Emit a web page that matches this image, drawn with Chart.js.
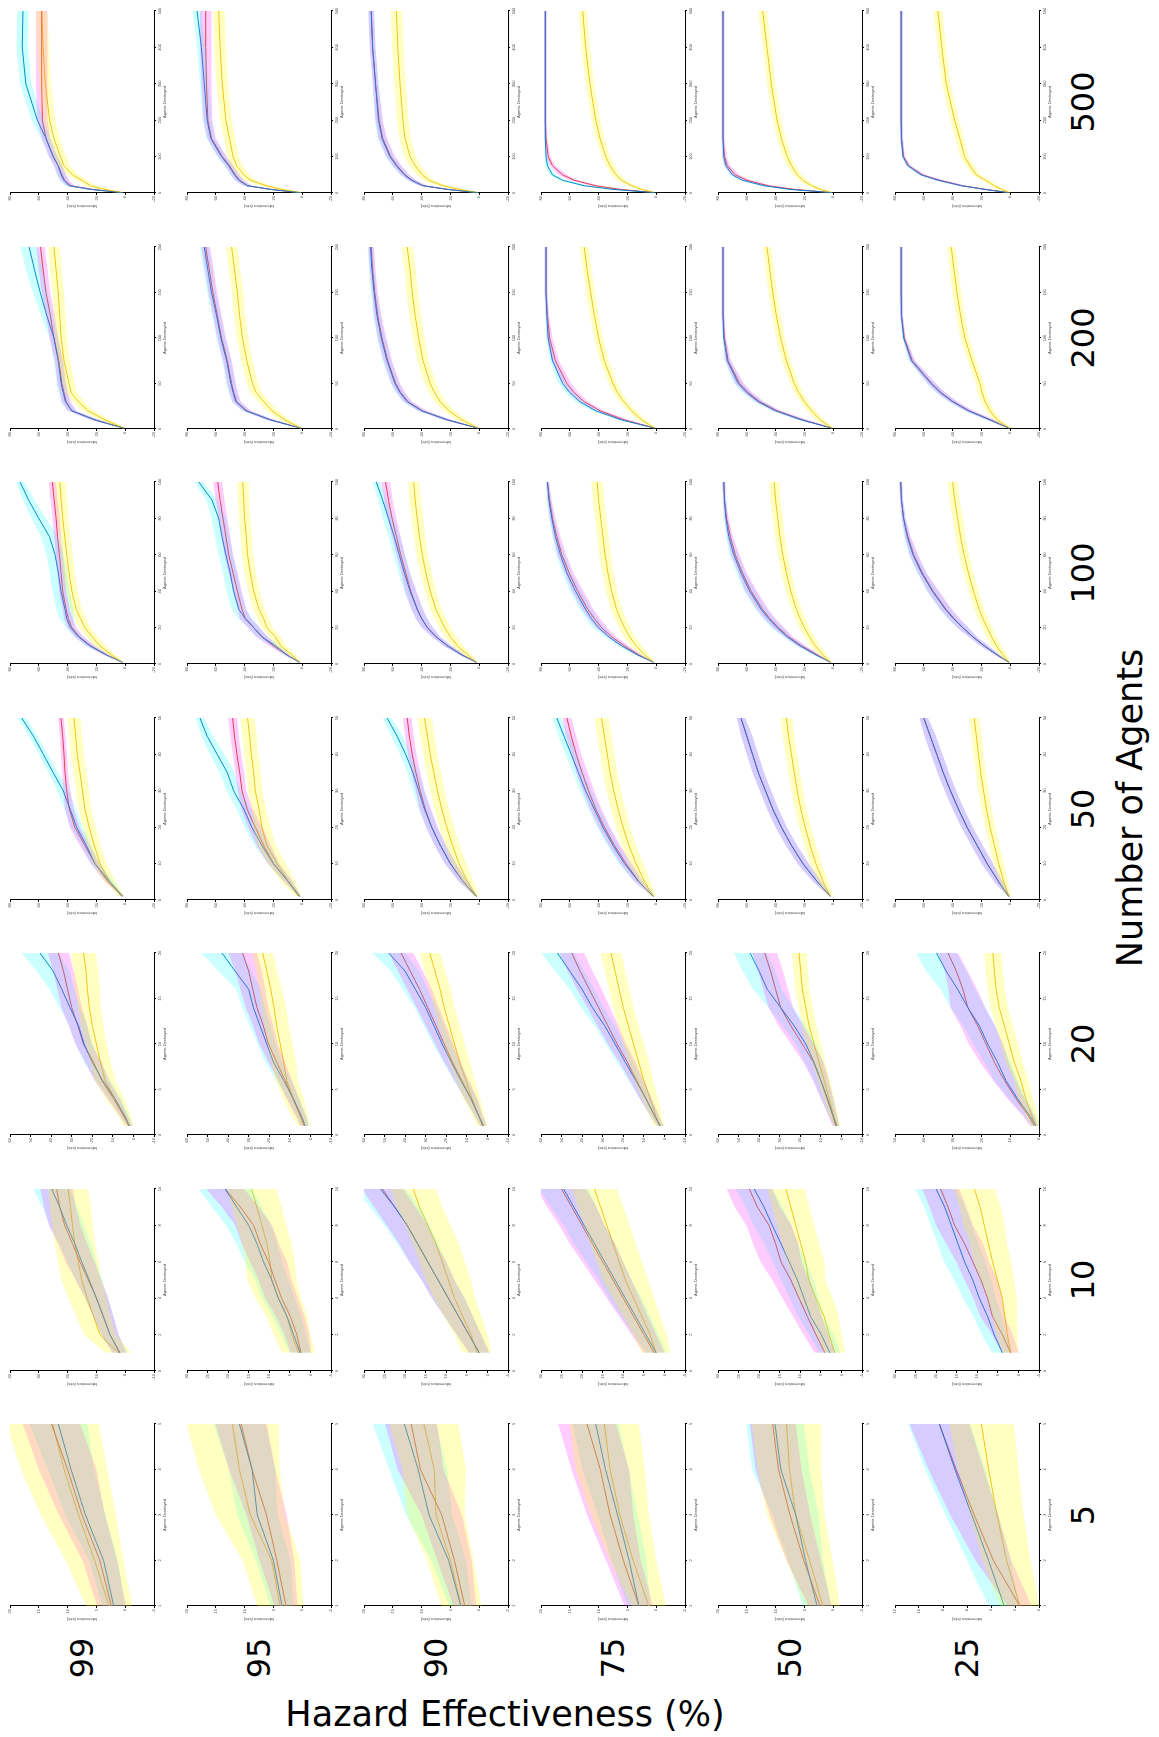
<!DOCTYPE html>
<html>
<head>
<meta charset="utf-8">
<script src="https://cdn.jsdelivr.net/npm/chart.js@4.4.0/dist/chart.umd.min.js"></script>
<style>
  body { margin: 0; background: #fff; width: 1159px; height: 1737px; position: relative; overflow: hidden; font-family: 'DejaVu Sans', sans-serif; }
  .cell { position: absolute; left: 0; top: 0; transform-origin: 0 0; }
  .lab { position: absolute; font-size: 35px; color: #000; white-space: nowrap; line-height: 1; }
  .num { font-size: 32px; }
  .rot { transform: translate(-50%, -50%) rotate(-90deg); }
</style>
</head>
<body>
<script>
const hazards = ['99', '95', '90', '75', '50', '25'];
const agentRows = [500, 200, 100, 50, 20, 10, 5];

// agents destroyed at which values were read
const x500 = [1, 10, 20, 35, 50, 75, 100, 150, 200, 300, 400, 500];
const x200 = [1, 10, 20, 30, 40, 50, 75, 100, 125, 150, 175, 200];
const x100 = [1, 5, 10, 15, 20, 25, 30, 40, 50, 60, 70, 80, 90, 100];
const x50 = [1, 5, 10, 15, 20, 25, 30, 35, 40, 45, 50];
const x20 = [1, 2, 4, 6, 8, 10, 12, 14, 16, 18, 20];
const x10 = [1, 2, 3, 4, 5, 6, 7, 8, 9, 10];
const x5 = [1, 2, 3, 4, 5];

// y axis [min, max, step] for each hazard column
const yAx500 = [[-20, 80, 20], [-20, 80, 20], [-20, 80, 20], [-20, 80, 20], [-20, 80, 20], [-20, 80, 20]];
const yAx200 = yAx500;
const yAx100 = yAx500;
const yAx50 = yAx500;
const yAx20 = [[-10, 60, 10], [-10, 60, 10], [-10, 60, 10], [-10, 60, 10], [-10, 60, 10], [0, 50, 10]];
const yAx10 = [[-10, 40, 10], [-5, 30, 5], [-5, 30, 5], [-5, 30, 5], [-5, 30, 5], [-5, 30, 5]];
const yAx5 = [[-5, 20, 5], [-5, 20, 5], [-5, 20, 5], [-5, 20, 5], [-5, 20, 5], [0, 12, 2]];

// ---- 500 agents ----
const blue500 = [
  [2, 24, 39, 42.5, 44.5, 46.5, 50, 55, 61, 69, 71.5, 71],
  [1.5, 22, 38, 44, 47, 51, 56, 63.5, 66, 68, 70, 73],
  [1, 22, 39, 47, 52, 57.5, 62, 67.5, 70, 72, 74, 75],
  [1, 30, 50, 65, 72, 75.5, 76.5, 77, 77, 77, 77, 77],
  [1, 30, 48, 63, 70, 74.5, 76, 76.5, 76.5, 76.5, 76.5, 76.5],
  [1, 18, 34, 50, 62, 71, 74.5, 75.5, 75.7, 75.7, 75.7, 75.7]
];
const blueW500 = [
  [1, 3, 3, 3, 3, 3, 3, 3.5, 4, 4, 4, 4],
  [1, 3, 3, 3, 3, 3, 3, 3, 3, 3, 3, 3],
  [1, 3, 3, 3, 3, 3, 3, 3, 2.5, 2, 2, 2],
  [1, 3, 3, 3, 2, 1.5, 1, 1, 1, 1, 1, 1],
  [1, 3, 3, 3, 2, 1.5, 1, 1, 1, 1, 1, 1],
  [1, 3, 3, 3, 2, 1.5, 1, 1, 1, 1, 1, 1]
];
const red500 = [
  [2, 23, 38, 42, 44, 46.5, 50, 55, 57.5, 58, 58, 58],
  [1.5, 22, 38, 43.5, 46.5, 50.5, 55.5, 63, 65.5, 66.5, 67, 67],
  [1, 22, 39, 46.5, 51.5, 57, 61.5, 67, 69.5, 72, 74, 75],
  [1, 25, 42, 57, 65, 72, 75, 76.5, 77, 77, 77, 77],
  [1, 27, 45, 60, 68, 73.5, 75.5, 76.5, 76.5, 76.5, 76.5, 76.5],
  [1, 17, 33, 49, 61, 70.5, 74, 75.5, 75.7, 75.7, 75.7, 75.7]
];
const redW500 = [
  [1, 3, 3, 3, 3, 3, 3, 3, 3.5, 4, 4, 4],
  [1, 3, 3, 3, 3, 3, 3, 3, 3, 3.5, 4, 4],
  [1, 3, 3, 3, 3, 3, 3, 3, 2.5, 2, 2, 2],
  [1, 3, 3, 3, 3, 2, 1.5, 1, 1, 1, 1, 1],
  [1, 3, 3, 3, 3, 2, 1.5, 1, 1, 1, 1, 1],
  [1, 3, 3, 3, 2, 1.5, 1, 1, 1, 1, 1, 1]
];
const yel500 = [
  [2, 14, 24, 30, 36.5, 42.5, 45, 49.5, 52.5, 55.5, 57, 58],
  [1, 14, 25, 36, 40.5, 45.5, 48, 50.5, 53, 55.5, 57, 58],
  [1, 14, 25, 35, 39.5, 44.5, 48, 51.5, 53, 55, 56.5, 57.5],
  [1, 10, 17, 24, 28, 32, 35, 39, 42, 46, 49, 51],
  [1, 9, 15, 21, 25, 29, 32, 36, 39, 43, 46, 49],
  [0.5, 6, 11, 17, 23.6, 28, 31.7, 35, 38.6, 44.4, 47.5, 50.2]
];
const yelW500 = [
  [2, 4, 4, 4, 4, 4, 4, 4, 4, 4, 4, 4],
  [2, 4, 4, 4, 4, 4, 4, 4, 4, 4, 4, 4],
  [2, 4, 4, 4, 4, 4, 4, 4, 4, 4, 4, 4],
  [2, 3, 3, 3, 3, 3, 3, 3, 3, 3, 3, 3],
  [2, 3, 3, 3, 3, 3, 3, 3, 3, 3, 3, 3],
  [2, 3, 3, 3, 3, 3, 3, 3, 3, 3, 3, 3]
];

// ---- 200 agents ----
const blue200 = [
  [1, 21, 37, 41.5, 43, 44.5, 46.5, 49.5, 54.5, 59, 63, 66.7],
  [1, 22, 39, 46, 48, 49.5, 52.5, 56.5, 59.5, 63, 65.5, 68],
  [1, 22, 40, 50, 55, 58.5, 64, 68, 71, 73, 74.5, 75.5],
  [1, 24, 42, 53, 60, 65, 72, 75, 76, 76.5, 76.5, 76.5],
  [1, 22, 40, 52, 60, 66, 73.5, 76, 76.5, 76.5, 76.5, 76.5],
  [1, 14, 29, 40, 48.5, 55, 68.5, 74, 75.5, 75.7, 75.7, 75.7]
];
const blueW200 = [
  [1, 3, 3, 3, 3, 3, 3, 3, 4, 5, 6, 6],
  [1, 3, 3, 3, 3, 3, 3, 3, 3, 3, 3, 3],
  [1, 3, 3, 3, 3, 3, 3, 3, 2.5, 2, 2, 2],
  [1, 3, 3, 3, 3, 3, 2, 1.5, 1, 1, 1, 1],
  [1, 3, 3, 3, 3, 3, 2, 1, 1, 1, 1, 1],
  [1, 3, 3, 3, 3, 3, 2, 1, 1, 1, 1, 1]
];
const red200 = [
  [1, 21, 37, 41, 42.5, 44, 46, 49.5, 52, 55, 57, 58.8],
  [1, 22, 38.5, 45.5, 47.5, 49, 52, 56, 59, 62, 64.5, 67],
  [1, 22, 39.5, 49.5, 54.5, 58, 63.5, 67.5, 70.5, 72.5, 74, 75],
  [1, 22, 39, 50, 57, 62, 70, 74, 75.5, 76.5, 76.5, 76.5],
  [1, 21, 39, 51, 59, 65, 73, 75.5, 76.5, 76.5, 76.5, 76.5],
  [1, 13.5, 28.5, 39.5, 48, 54.5, 68, 73.5, 75.5, 75.7, 75.7, 75.7]
];
const redW200 = [
  [1, 3, 3, 3, 3, 3, 3, 3, 3, 3, 3, 3],
  [1, 3, 3, 3, 3, 3, 3, 3, 3, 3, 3, 3],
  [1, 3, 3, 3, 3, 3, 3, 3, 2.5, 2, 2, 2],
  [1, 3, 3, 3, 3, 3, 2.5, 2, 1, 1, 1, 1],
  [1, 3, 3, 3, 3, 3, 2, 1, 1, 1, 1, 1],
  [1, 3, 3, 3, 3, 3, 2, 1, 1, 1, 1, 1]
];
const yel200 = [
  [1, 14, 25.7, 32.5, 37.5, 39, 42.5, 44.5, 45.5, 46.5, 48, 49.5],
  [1, 12, 21, 26.5, 32, 34.5, 38.5, 41.5, 43.5, 45, 47, 49],
  [1, 12, 21, 27, 31, 34, 39, 42, 44.5, 46.5, 48, 50],
  [1, 10, 17, 22.5, 27, 30, 36, 40, 43, 45.5, 48, 50],
  [1, 9, 15, 20, 24, 27, 32.5, 36.5, 39.5, 42, 44, 46],
  [0.5, 9, 14, 17.5, 19.5, 21, 26.5, 31.5, 34.5, 37, 39, 41]
];
const yelW200 = [
  [2, 4, 4, 4, 4, 4, 4, 4, 4, 4, 4, 4],
  [2, 4, 4, 4, 4, 4, 4, 4, 4, 4, 4, 4],
  [2, 4, 4, 4, 4, 4, 4, 4, 4, 4, 4, 4],
  [2, 3, 3, 3, 3, 3, 3, 3, 3, 3, 3, 3],
  [2, 3, 3, 3, 3, 3, 3, 3, 3, 3, 3, 3],
  [2, 3, 3, 3, 3, 3, 3, 3, 3, 3, 3, 3]
];

// ---- 100 agents ----
const blue100 = [
  [2, 13, 24.5, 32.5, 38, 40.6, 41.8, 44.6, 46.4, 48.7, 52.6, 60, 67, 73],
  [2, 10.6, 18.7, 28, 33.7, 39.5, 44, 47.6, 50, 53, 55.7, 58, 62.6, 71.8],
  [2, 12, 22, 30, 36, 40, 43, 48, 52, 55.5, 59, 63, 67, 71.5],
  [2, 13, 24, 33, 40, 45, 49, 56, 62, 66.5, 70, 72.5, 74.5, 75.5],
  [2, 12, 23, 32, 39, 45, 50, 58, 64, 69, 72.5, 74.5, 75.5, 76],
  [1, 9, 18, 26, 33, 39.5, 45, 54, 61.5, 67.5, 71.5, 74, 75.5, 76]
];
const blueW100 = [
  [1, 2, 3, 3, 3, 5, 6, 6, 6, 6, 6, 5, 4, 3],
  [1, 2, 3, 4, 4, 5, 5, 5, 5, 5, 5, 5, 4, 3],
  [1, 2, 3, 3, 4, 4, 4, 4, 4, 4, 4, 4, 3, 3],
  [1, 2, 3, 3, 4, 4, 4, 4, 3, 3, 2, 2, 1.5, 1],
  [1, 2, 3, 3, 4, 4, 4, 4, 3, 3, 2, 1.5, 1, 1],
  [1, 2, 3, 3, 4, 4, 4, 4, 3, 3, 2, 1.5, 1, 1]
];
const red100 = [
  [2, 13, 24, 32, 37, 39.5, 41, 43.4, 44.5, 45.7, 47, 48, 49.3, 50.6],
  [2, 10.6, 20, 28, 33.7, 39.5, 41.8, 45, 48, 51, 53, 55, 57, 58.7],
  [2, 12, 22, 30, 36, 40, 43, 47.5, 51, 54.5, 57.5, 60.5, 63, 65],
  [2, 12, 22, 31, 38, 43, 47.5, 54.5, 60.5, 65.5, 69, 72, 74, 75.5],
  [2, 11, 22, 31, 38, 44, 49, 57, 63, 68, 71.5, 74, 75.5, 76],
  [1, 9, 18, 26, 33, 39, 44.5, 53.5, 61, 67, 71, 74, 75.5, 76]
];
const redW100 = [
  [1, 2, 3, 3, 3, 3, 2.5, 2.5, 2.5, 2.5, 2.5, 2.5, 2.5, 2.5],
  [1, 2, 3, 4, 4, 4, 3, 3, 3, 3, 3, 3, 3, 3],
  [1, 2, 3, 3, 4, 4, 4, 4, 3, 3, 3, 3, 3, 3],
  [1, 2, 3, 3, 4, 4, 4, 4, 3, 3, 2.5, 2, 1.5, 1],
  [1, 2, 3, 3, 4, 4, 4, 4, 3, 3, 2, 1.5, 1, 1],
  [1, 2, 3, 3, 4, 4, 4, 4, 3, 3, 2, 1.5, 1, 1]
];
const yel100 = [
  [2, 9.5, 17.5, 23, 28, 31, 34, 37, 39, 40.6, 42, 43.4, 44.5, 45.3],
  [2, 7, 15, 18.7, 24.5, 26.8, 30, 33.7, 36, 38, 38.8, 40, 40.6, 41.3],
  [2, 8, 15, 20, 24, 27, 30, 34, 37, 39.5, 41.5, 43, 44.5, 45.5],
  [2, 8, 14, 18.5, 22, 25, 27.5, 31, 33.5, 35.5, 37, 38.5, 40, 41],
  [2, 7, 12.5, 16.5, 20, 23, 25.5, 29.5, 32.5, 35, 37, 38.5, 40, 41],
  [1, 5, 9.5, 13, 16, 19, 21.5, 25.5, 29, 32, 34.5, 36.5, 38.5, 40]
];
const yelW100 = [
  [1.5, 3, 4, 4, 4, 4, 4, 4, 4, 4, 4, 4, 4, 4],
  [1.5, 3, 4, 4, 4, 4, 4, 4, 4, 4, 4, 4, 4, 4],
  [1.5, 3, 4, 4, 4, 4, 4, 4, 4, 4, 4, 4, 4, 4],
  [1.5, 3, 4, 4, 4, 4, 4, 4, 4, 4, 4, 4, 4, 4],
  [1.5, 3, 3.5, 3.5, 3.5, 3.5, 3.5, 3.5, 3.5, 3.5, 3.5, 3.5, 3.5, 3.5],
  [1.5, 3, 3.5, 3.5, 3.5, 3.5, 3.5, 3.5, 3.5, 3.5, 3.5, 3.5, 3.5, 3.5]
];

// ---- 50 agents ----
const blue50 = [
  [1.8, 10.6, 21, 27, 33.7, 38.3, 43, 50, 56.8, 63.7, 71.8],
  [1.8, 9.5, 20, 28, 35, 40.6, 47.6, 52, 59, 66, 71],
  [2, 11, 20, 27, 33, 38, 42, 46, 51, 57, 64],
  [2, 12, 22, 30, 37, 43, 49, 54, 59, 64, 69],
  [2, 11, 21, 29, 36, 42, 47, 52, 56, 60, 64],
  [1, 8, 16, 23, 30, 36, 41.5, 46.5, 51, 55.5, 60]
];
const blueW50 = [
  [1, 2.5, 3, 3.5, 4, 4, 4, 3.5, 3, 3, 3],
  [1, 3, 4, 5, 5, 5, 5, 5, 5, 4, 3],
  [1, 3, 4, 4, 4, 4, 4, 4, 4, 4, 3],
  [1, 3, 4, 4, 4, 4, 4, 4, 4, 4, 3],
  [1, 3, 4, 4, 4, 4, 4, 4, 4, 4, 3],
  [1, 3, 4, 4, 4, 4, 4, 4, 4, 4, 3]
];
const red50 = [
  [1.8, 11.8, 21, 28, 35, 38.8, 40.6, 41.8, 42.5, 43.4, 44.6],
  [1.8, 9.5, 20, 26.8, 32.6, 38.3, 41.8, 43.4, 45.3, 47, 48.3],
  [2, 11, 20, 27, 33, 37.5, 41, 44, 46.5, 48.5, 50],
  [2, 12, 21, 29, 36, 42, 47, 51.5, 55.5, 59, 62],
  [2, 11, 21, 29, 36, 42, 47, 52, 56, 60, 64],
  [1, 8, 16, 23, 30, 36, 41.5, 46.5, 51, 55.5, 60]
];
const redW50 = [
  [1, 2, 3, 3.5, 3.5, 3, 2.5, 2, 2, 2, 2],
  [1, 3, 4, 5, 5, 4, 3, 3, 3, 3, 3],
  [1, 3, 4, 4, 4, 4, 3, 3, 3, 3, 3],
  [1, 3, 4, 4, 4, 4, 4, 4, 3.5, 3.5, 3],
  [1, 3, 4, 4, 4, 4, 4, 4, 4, 4, 3],
  [1, 3, 4, 4, 4, 4, 4, 4, 4, 4, 3]
];
const yel50 = [
  [2.5, 10.6, 17.5, 21.5, 25, 28, 29.6, 31.4, 33.3, 34.4, 35.6],
  [2.5, 9.5, 17.5, 24.5, 28, 30, 32.6, 33.7, 35.3, 36.5, 37.9],
  [2, 8, 14, 18.5, 22.5, 26, 29, 31.5, 34, 36, 38],
  [2, 8, 14, 19, 23, 26.5, 29.5, 32, 34, 36, 38],
  [2, 7, 12, 16, 19.5, 22.5, 25, 27, 29, 31, 32.5],
  [1, 4.5, 8, 11, 14, 16.5, 18.5, 20.5, 22, 23.5, 25]
];
const yelW50 = [
  [2, 4, 4.5, 4.5, 4.5, 4.5, 4.5, 4.5, 4.5, 4.5, 4.5],
  [2, 5, 6, 6, 6, 5, 5, 5, 5, 5, 5],
  [2, 4, 5, 5, 5, 5, 5, 5, 5, 5, 5],
  [2, 4, 5, 5, 5, 5, 5, 5, 5, 5, 5],
  [2, 3.5, 4, 4, 4, 4, 4, 4, 4, 4, 4],
  [2, 3, 3.5, 3.5, 3.5, 3.5, 3.5, 3.5, 3.5, 3.5, 3.5]
];

// ---- 20 agents ----
const blue20 = [
  [2, 4, 9, 15, 20, 24, 26.7, 30.8, 34.8, 39, 45.4],
  [2.6, 4.2, 8.3, 13, 18, 21.2, 24.5, 27.7, 30, 36.6, 43],
  [2, 4, 8, 13, 17.5, 22, 26, 30, 35, 40, 48],
  [2, 4.5, 9, 14, 19, 24, 29, 35, 40, 46, 52],
  [2.3, 3.9, 6.8, 10, 13.3, 17.3, 23, 29.5, 36, 40, 44.4],
  [1.1, 2.9, 7.5, 11.5, 14.4, 17.8, 20.7, 24.7, 28.2, 32.2, 35.6]
];
const blueW20 = [
  [1.5, 2, 3, 3.5, 4, 4, 4.5, 5, 6, 8, 9],
  [2, 2.5, 3, 3.5, 4, 4.5, 5, 5.5, 6, 8, 10],
  [1.5, 2, 3, 3.5, 4, 4.5, 5, 5.5, 6, 7, 8],
  [1.5, 2, 3, 3.5, 4, 4.5, 5, 5.5, 6, 7, 8],
  [1.5, 2, 3, 3.5, 4.5, 5, 5.5, 6, 7, 8, 8],
  [1.5, 2, 3, 4, 4.5, 5, 5.5, 6, 6, 7, 7]
];
const red20 = [
  [2, 4.5, 9.7, 15.4, 19.4, 24.3, 27, 30, 32, 34, 36.5],
  [2.9, 4.5, 8.6, 12.3, 16.4, 20.4, 22.9, 26, 28, 30, 33],
  [2, 4, 8, 12.5, 17, 21, 25, 29, 33, 37.5, 42],
  [2, 4.5, 9, 13.5, 18, 23, 27.5, 32, 36.5, 41, 45],
  [2.8, 4, 7, 10, 13.6, 19, 24.6, 29.5, 32, 34.4, 37.3],
  [1.7, 3.4, 8, 12, 15.5, 18.4, 21.3, 24.7, 26.4, 28.7, 31.6]
];
const redW20 = [
  [1.5, 2, 3, 3.5, 4, 4, 4.5, 5, 5, 5, 5],
  [2, 2.5, 3, 3.5, 4, 4.5, 5, 5.5, 6, 6.5, 7],
  [1.5, 2, 3, 3.5, 4, 4.5, 5, 5.5, 6, 6, 6],
  [1.5, 2, 3, 3.5, 4, 4.5, 5, 5.5, 6, 6, 6],
  [1.5, 2, 3, 4, 5, 5.5, 6, 6, 6, 6, 6],
  [1.5, 2, 3, 4, 5, 6, 6, 6, 5, 4, 3.5]
];
const yel20 = [
  [2.4, 4, 9, 13.8, 16, 18, 20, 21.4, 22.4, 23, 24.3],
  [3, 5, 8.3, 11.5, 13, 14.7, 16.4, 17.7, 19.3, 21.2, 23.2],
  [2.5, 4, 7.5, 10.5, 13.5, 16, 18.5, 21, 23, 25.5, 28],
  [2.5, 4, 7, 10, 12.5, 15, 17.5, 20, 22, 24, 26],
  [2, 3.6, 6, 8.4, 10.9, 13.3, 15.7, 17.3, 19, 19.8, 20.6],
  [1.1, 2.3, 4.6, 6.3, 8.6, 10.3, 12, 13.8, 14.9, 15.5, 16]
];
const yelW20 = [
  [2.5, 3, 4.5, 5, 5, 5, 5.5, 5.5, 6, 6, 6],
  [3, 4, 5, 5.5, 6, 6, 6, 6, 5.5, 5, 5],
  [2.5, 3, 4, 4.5, 5, 5, 5, 5, 5, 5, 5],
  [2.5, 3, 4, 4.5, 5, 5, 5, 5, 5, 5, 5],
  [1.5, 2, 2.5, 3, 3, 3.5, 3.5, 3.5, 3.5, 3.5, 3.5],
  [1.5, 2, 2.5, 2.5, 3, 3, 3, 3, 3, 3, 3]
];

// ---- 10 agents ----
const blue10 = [
  [1.8, 5.3, 7.6, 10, 12.5, 15.1, 17.5, 20.3, 22.7, 25.5],
  [2.5, 4.1, 5.7, 7.8, 9.4, 11.4, 13, 15, 17.9, 20.7],
  [2, 4.5, 7, 9.5, 12, 14.5, 17, 19.5, 22.5, 26],
  [2, 4.5, 7, 9.5, 12, 14.5, 17, 19.5, 22, 24.5],
  [2.8, 4.9, 7.5, 9.1, 10.7, 12.7, 14.7, 16.8, 18.8, 21.2],
  [3.9, 5.9, 7.5, 9.5, 11.1, 13.1, 14.7, 16.3, 17.9, 20]
];
const blueW10 = [
  [2.5, 3, 3.5, 4, 4.5, 5, 5.5, 6, 6, 6.5],
  [2.5, 3, 3.5, 4, 4, 4.5, 5, 5.5, 6, 6.5],
  [2.5, 3, 3.5, 4, 4, 4.5, 5, 5.5, 6, 6],
  [2.5, 3, 3.5, 4, 4, 4.5, 5, 5, 5.5, 6],
  [2.5, 3, 3, 3.5, 4, 4, 4, 4.5, 4.5, 4.5],
  [2.5, 3, 3.5, 4, 4.5, 5, 5, 5, 5, 5]
];
const red10 = [
  [2, 5.3, 7.6, 10, 12.8, 15.7, 18.3, 21, 22.7, 23.8],
  [2.3, 3.3, 4.9, 7, 8.6, 10.2, 12.2, 13.8, 17, 20.7],
  [2, 4.5, 7, 9.5, 12, 14.5, 17, 19.5, 22.5, 25.5],
  [2.5, 5, 7.5, 10, 12.5, 15, 17.5, 20, 22.5, 25],
  [4, 6.2, 8.3, 10.3, 12.3, 14.7, 16, 17.6, 20.4, 22.4],
  [1.9, 3.9, 6.3, 7.5, 9.1, 11.1, 13.1, 15.5, 17.1, 18.9]
];
const redW10 = [
  [2.5, 3, 3.5, 4, 4.5, 5, 5, 5.5, 5.5, 5.7],
  [2.5, 3, 3.5, 4, 4, 4.5, 4.5, 4.5, 4.5, 4.6],
  [2.5, 3, 3.5, 4, 4, 4.5, 4.5, 5, 5, 5],
  [2.5, 3, 3.5, 4, 4.5, 5, 5.5, 5.5, 6, 6],
  [2.5, 3, 3.5, 4, 4.5, 5, 5.5, 5.5, 5.5, 5.5],
  [2, 2.5, 3, 3.5, 4, 4, 4.5, 4.5, 4.5, 4.5]
];
const yel10 = [
  [2.4, 8.8, 11, 13.2, 15.1, 16.3, 17.5, 18.3, 19, 19.8],
  [2.9, 4.5, 5.7, 7.8, 9.4, 9.8, 10.6, 11.8, 13, 14.3],
  [2.5, 4, 6, 8, 9.5, 11, 12.5, 14.5, 16.5, 18],
  [2, 3.5, 5.5, 7.5, 9.5, 11, 12.5, 14, 15.5, 17],
  [1.6, 3, 4.2, 6.2, 7.9, 8.7, 9.9, 11.1, 12.3, 13.5],
  [1.9, 2.7, 3.3, 3.9, 5.1, 6.3, 7.3, 8.3, 9.3, 10.7]
];
const yelW10 = [
  [4.5, 5.5, 6, 6.5, 7, 7, 7, 7, 7, 7],
  [4, 4.5, 5, 5.5, 6, 6, 6, 6, 6, 6],
  [3.5, 4, 4.5, 5, 5.5, 5.5, 5.5, 5.5, 5.5, 5.5],
  [3.5, 4, 4.5, 5, 5.5, 5.5, 5.5, 5.5, 5.5, 5.5],
  [2.5, 3, 3.5, 4, 4, 4.5, 4.5, 4.5, 4.5, 4.5],
  [2, 2.5, 3, 3.5, 4, 4.5, 4.5, 5, 5, 5]
];

// ---- 5 agents ----
const blue5 = [
  [2, 3.75, 6.9, 9.4, 11.6],
  [3.5, 5, 7.8, 8.7, 10.9],
  [3.2, 5.3, 8.7, 10.6, 13],
  [3, 4.7, 6.7, 8.8, 10.5],
  [2.8, 4.8, 6.5, 9.1, 10.1],
  [2.9, 4.2, 5.6, 7, 8.3]
];
const blueW5 = [
  [2, 2.5, 3.5, 4, 5],
  [2, 3, 3.5, 4, 4.5],
  [2, 3, 4, 5, 5.5],
  [2, 3, 3.5, 4, 4],
  [2.5, 3, 4, 5, 5],
  [1.3, 1.8, 2.2, 2.5, 2.6]
];
const red5 = [
  [2.4, 4.4, 7.5, 10, 12.8],
  [2.8, 4.4, 6.2, 8.7, 10.6],
  [2.5, 4.3, 6.5, 10.2, 11.8],
  [3, 5.7, 8, 9.7, 12],
  [2.3, 5.1, 7.5, 9.5, 10.5],
  [1.6, 3.8, 5.4, 6.9, 8.3]
];
const redW5 = [
  [2.5, 3, 4, 5, 5],
  [2, 3, 3.5, 4, 4.5],
  [2, 3, 3.5, 4, 4.5],
  [2.5, 3, 4, 5, 5],
  [2, 3, 3.5, 4, 4],
  [1, 1.5, 2, 2.3, 2.5]
];
const yel5 = [
  [2.8, 5.3, 8.1, 10.6, 12.6],
  [3.8, 5.3, 9, 10.9, 12.1],
  [3.1, 5, 7.5, 7.8, 9.6],
  [1.3, 4, 6.3, 8, 9],
  [1.8, 4.1, 6.5, 7.6, 8.1],
  [1.6, 2.7, 3.5, 4.2, 4.8]
];
const yelW5 = [
  [4, 5, 6.5, 7.5, 8],
  [4, 5, 6, 7, 8],
  [3.5, 4, 5, 5.5, 6],
  [3, 4, 5, 6, 6],
  [3, 4, 5, 5.5, 6],
  [1.6, 2, 2.2, 2.5, 2.7]
];

const rows = [
  { xs: x500, xMin: 0, xMax: 500, xStep: 100, yAx: yAx500, b: blue500, bw: blueW500, r: red500, rw: redW500, y: yel500, yw: yelW500 },
  { xs: x200, xMin: 0, xMax: 200, xStep: 50, yAx: yAx200, b: blue200, bw: blueW200, r: red200, rw: redW200, y: yel200, yw: yelW200 },
  { xs: x100, xMin: 0, xMax: 100, xStep: 20, yAx: yAx100, b: blue100, bw: blueW100, r: red100, rw: redW100, y: yel100, yw: yelW100 },
  { xs: x50, xMin: 0, xMax: 50, xStep: 10, yAx: yAx50, b: blue50, bw: blueW50, r: red50, rw: redW50, y: yel50, yw: yelW50 },
  { xs: x20, xMin: 0, xMax: 20, xStep: 5, yAx: yAx20, b: blue20, bw: blueW20, r: red20, rw: redW20, y: yel20, yw: yelW20 },
  { xs: x10, xMin: 0, xMax: 10, xStep: 2, yAx: yAx10, b: blue10, bw: blueW10, r: red10, rw: redW10, y: yel10, yw: yelW10 },
  { xs: x5, xMin: 1, xMax: 5, xStep: 1, yAx: yAx5, b: blue5, bw: blueW5, r: red5, rw: redW5, y: yel5, yw: yelW5 }
];

// layout (page pixels)
const colLeft0 = 10, colGap = 177;
const rowAxis0 = 193, rowGap = 235.5;

const lineColors = ['#0072BD', '#D95319', '#EDB120'];
const bandColors = ['rgba(0,255,255,0.2)', 'rgba(255,0,255,0.2)', 'rgba(255,255,0,0.24)'];
const bandOrder = [4, 3, 2];   // cyan drawn first, yellow last
const tickFont = { family: 'Liberation Sans', size: 4 };

function pts(xs, vals, w, sign) {
  return xs.map((x, i) => ({ x: x, y: vals[i] + sign * (w ? w[i] : 0) }));
}

function addCell(ri, ci) {
  const row = rows[ri];
  const ax = row.yAx[ci];
  const wrap = document.createElement('div');
  wrap.className = 'cell';
  const cv = document.createElement('canvas');
  cv.width = 204; cv.height = 161;
  cv.style.width = '204px'; cv.style.height = '161px';
  wrap.appendChild(cv);
  document.body.appendChild(wrap);

  const means = [row.b[ci], row.r[ci], row.y[ci]];
  const widths = [row.bw[ci], row.rw[ci], row.yw[ci]];
  const ds = [];
  for (let s = 0; s < 3; s++) {
    ds.push({ data: pts(row.xs, means[s], null, 0), borderColor: lineColors[s], borderWidth: 1, pointRadius: 0, fill: false, order: 10 });
  }
  for (let s = 0; s < 3; s++) {
    ds.push({ data: pts(row.xs, means[s], widths[s], -1), borderWidth: 0, borderColor: 'rgba(0,0,0,0)', pointRadius: 0, fill: false, order: bandOrder[s] });
    ds.push({ data: pts(row.xs, means[s], widths[s], 1), borderWidth: 0, borderColor: 'rgba(0,0,0,0)', pointRadius: 0, fill: '-1', backgroundColor: bandColors[s], order: bandOrder[s] });
  }

  const chart = new Chart(cv, {
    type: 'line',
    data: { datasets: ds },
    options: {
      responsive: false,
      animation: false,
      devicePixelRatio: 1,
      events: [],
      layout: { padding: { top: 4, right: 6, left: 0, bottom: 0 } },
      plugins: { legend: { display: false }, tooltip: { enabled: false } },
      scales: {
        x: {
          type: 'linear', min: row.xMin, max: row.xMax,
          afterFit: (s) => { s.height = 13; },
          ticks: { stepSize: row.xStep, font: tickFont, color: '#444', padding: 1, maxRotation: 0, autoSkip: false },
          grid: { drawOnChartArea: false, drawTicks: true, tickLength: 2, tickColor: '#000' },
          border: { display: true, color: '#000', width: 1 },
          title: { display: true, text: 'Agents Destroyed', font: tickFont, color: '#444', padding: 0 }
        },
        y: {
          type: 'linear', min: ax[0], max: ax[1],
          afterFit: (s) => { s.width = 16; },
          ticks: { stepSize: ax[2], font: tickFont, color: '#444', padding: 1, autoSkip: false },
          grid: { drawOnChartArea: false, drawTicks: true, tickLength: 2, tickColor: '#000' },
          border: { display: true, color: '#000', width: 1 },
          title: { display: true, text: 'Information (bits)', font: tickFont, color: '#444', padding: 0 }
        }
      }
    }
  });

  const ca = chart.chartArea;
  const L = colLeft0 + colGap * ci - ca.top;
  const T = Math.round(rowAxis0 + rowGap * ri) + ca.left;
  wrap.style.transform = 'translate(' + L + 'px,' + T + 'px) rotate(-90deg)';
}

for (let ri = 0; ri < rows.length; ri++) {
  for (let ci = 0; ci < hazards.length; ci++) addCell(ri, ci);
}

function label(text, cx, cy, rotated, cls) {
  const d = document.createElement('div');
  d.className = 'lab' + (rotated ? ' rot' : '') + (cls ? ' ' + cls : '');
  d.textContent = text;
  d.style.left = cx + 'px';
  d.style.top = cy + 'px';
  if (!rotated) d.style.transform = 'translate(-50%, -50%)';
  document.body.appendChild(d);
}

hazards.forEach((h, ci) => label(h, colLeft0 + colGap * ci + 72, 1658, true, 'num'));
agentRows.forEach((n, ri) => label(String(n), 1083, Math.round(rowAxis0 + rowGap * ri) - 91, true, 'num'));
label('Number of Agents', 1130, 808, true);
label('Hazard Effectiveness (%)', 505, 1714, false);
</script>
</body>
</html>
